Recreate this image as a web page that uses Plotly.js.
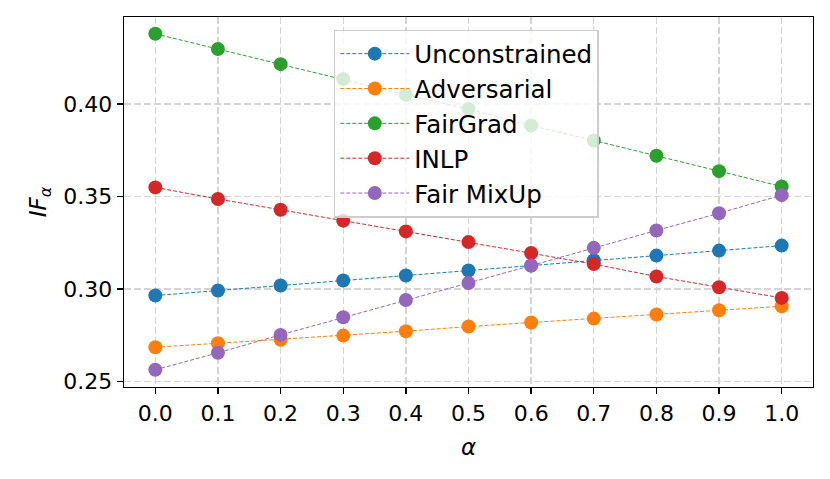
<!DOCTYPE html>
<html>
<head>
<meta charset="utf-8">
<script src="https://cdn.plot.ly/plotly-3.0.1.min.js"></script>
<style>
  html, body { margin: 0; padding: 0; background: #fff; }
  #chart { width: 830px; height: 479px; }
</style>
</head>
<body>
<div id="chart"></div>
<script>
const alphas = [0.0, 0.1, 0.2, 0.3, 0.4, 0.5, 0.6, 0.7, 0.8, 0.9, 1.0];
const tickLabels = ["0.0", "0.1", "0.2", "0.3", "0.4", "0.5", "0.6", "0.7", "0.8", "0.9", "1.0"];

const unconstrained = [0.2964, 0.2991, 0.3018, 0.3045, 0.3072, 0.3099, 0.3126, 0.3155, 0.3180, 0.3207, 0.3234];
const adversarial = [0.2684, 0.2706, 0.2725, 0.2747, 0.2771, 0.2796, 0.2818, 0.2839, 0.2861, 0.2884, 0.2906];
const fairGrad = [0.4380, 0.4298, 0.4216, 0.4135, 0.4050, 0.3973, 0.3884, 0.3803, 0.3720, 0.3637, 0.3554];
const inlp = [0.3549, 0.3486, 0.3428, 0.3369, 0.3311, 0.3253, 0.3194, 0.3134, 0.3067, 0.3009, 0.2951];
const fairMixUp = [0.2562, 0.2654, 0.2751, 0.2846, 0.2940, 0.3032, 0.3126, 0.3222, 0.3316, 0.3409, 0.3507];

const seriesNames = ["Unconstrained", "Adversarial", "FairGrad", "INLP", "Fair MixUp"];
const seriesValues = [unconstrained, adversarial, fairGrad, inlp, fairMixUp];
const seriesColors = ["#1f77b4", "#ff7f0e", "#2ca02c", "#d62728", "#9467bd"];

const traces = seriesNames.map((name, i) => ({
  type: "scatter",
  mode: "lines+markers",
  name: name,
  x: alphas,
  y: seriesValues[i],
  line: { color: seriesColors[i], width: 1, dash: "4px,2px" },
  marker: { color: seriesColors[i], size: 14 },
}));

const axisStyle = {
  showline: true,
  linecolor: "#000",
  linewidth: 1.3,
  mirror: true,
  ticks: "outside",
  ticklen: 6,
  tickwidth: 1.3,
  tickcolor: "#000",
  showgrid: true,
  gridcolor: "#d4d4d4",
  gridwidth: 1.3,
  griddash: "7px,3px",
  zeroline: false,
  tickfont: { family: "DejaVu Sans", size: 22, color: "#000" },
};

const layout = {
  width: 830,
  height: 479,
  margin: { l: 124.4, r: 17.3, t: 17.3, b: 92.3 },
  paper_bgcolor: "#fff",
  plot_bgcolor: "#fff",
  font: { family: "DejaVu Sans", color: "#000" },
  xaxis: Object.assign({}, axisStyle, {
    range: [-0.05, 1.05],
    tickvals: alphas,
    ticktext: tickLabels,
    title: { text: "<i>α</i>", font: { family: "DejaVu Sans", size: 23 }, standoff: 14 },
  }),
  yaxis: Object.assign({}, axisStyle, {
    range: [0.2469, 0.4471],
    tickvals: [0.25, 0.30, 0.35, 0.40],
    ticktext: ["0.25", "0.30", "0.35", "0.40"],
    title: { text: "<i>IF</i><sub><i>α</i></sub>", font: { family: "DejaVu Sans", size: 23 }, standoff: 10 },
  }),
  showlegend: true,
  legend: {
    x: 0.3045,
    y: 0.9656,
    xanchor: "left",
    yanchor: "top",
    bgcolor: "rgba(255,255,255,0.8)",
    bordercolor: "#cccccc",
    borderwidth: 1.5,
    font: { family: "DejaVu Sans", size: 24.5, color: "#000" },
    itemwidth: 69,
  },
};

Plotly.newPlot("chart", traces, layout, { displayModeBar: false, staticPlot: true });
</script>
</body>
</html>
